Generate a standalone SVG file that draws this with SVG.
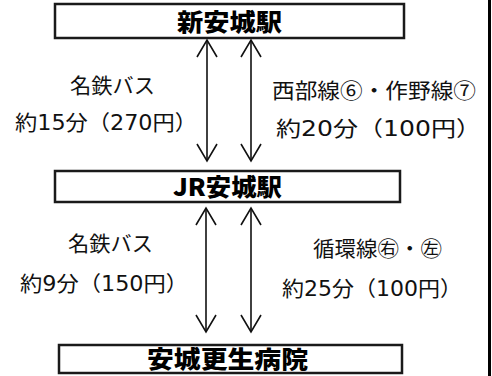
<svg xmlns="http://www.w3.org/2000/svg" width="492" height="376" viewBox="0 0 492 376">
  <style>
    .box { fill: #ffffff; stroke: #1a1a1a; stroke-width: 2.5; }
    .title { font-family: "Noto Sans CJK JP", "Noto Sans", sans-serif; font-weight: 900; font-size: 24px; fill: #000; }
    .lbl { font-family: "DejaVu Sans", "Noto Sans CJK JP", sans-serif; font-weight: 400; font-size: 21px; fill: #111; }
    .cjk { font-family: "Noto Sans CJK JP", sans-serif; }
    .conn { stroke: #111; stroke-width: 1.6; fill: none; }
  </style>
  <defs>
    <marker id="head" markerUnits="userSpaceOnUse" viewBox="-20 -12 22 24" refX="0" refY="0" markerWidth="22" markerHeight="24" orient="auto-start-reverse">
      <path d="M -17 -10 L 0 0 L -17 10" fill="none" stroke="#111" stroke-width="1.6"/>
    </marker>
  </defs>
  <rect x="0" y="0" width="492" height="376" fill="#ffffff"/>
  <rect x="488" y="0" width="3" height="376" fill="#000"/>

  <g id="node-shin-anjo">
    <rect class="box" x="55" y="4" width="349" height="34"/>
    <text class="title" x="177" y="30.5" textLength="105" lengthAdjust="spacingAndGlyphs">新安城駅</text>
  </g>
  <g id="node-jr-anjo">
    <rect class="box" x="55" y="171" width="345" height="31"/>
    <text class="title" x="173" y="196" textLength="109" lengthAdjust="spacingAndGlyphs">JR安城駅</text>
  </g>
  <g id="node-hospital">
    <rect class="box" x="59" y="345" width="343" height="28"/>
    <text class="title" x="147" y="368" textLength="161" lengthAdjust="spacingAndGlyphs">安城更生病院</text>
  </g>

  <g id="connectors">
    <line class="conn" x1="207" y1="40" x2="207" y2="161" marker-start="url(#head)" marker-end="url(#head)"/>
    <line class="conn" x1="251" y1="40" x2="251" y2="161" marker-start="url(#head)" marker-end="url(#head)"/>
    <line class="conn" x1="206" y1="208" x2="206" y2="332" marker-start="url(#head)" marker-end="url(#head)"/>
    <line class="conn" x1="251" y1="208" x2="251" y2="332" marker-start="url(#head)" marker-end="url(#head)"/>
  </g>

  <g id="labels">
    <text class="lbl" x="70" y="92.5" textLength="85" lengthAdjust="spacingAndGlyphs">名鉄バス</text>
    <text class="lbl" x="15" y="130" textLength="182" lengthAdjust="spacingAndGlyphs">約15分（270円）</text>
    <text class="lbl" x="272" y="97.5" textLength="204" lengthAdjust="spacingAndGlyphs">西部線<tspan class="cjk">⑥・</tspan>作野線<tspan class="cjk">⑦</tspan></text>
    <text class="lbl" x="276" y="136" textLength="205" lengthAdjust="spacingAndGlyphs">約20分（100円）</text>
    <text class="lbl" x="68" y="251" textLength="85" lengthAdjust="spacingAndGlyphs">名鉄バス</text>
    <text class="lbl" x="20" y="291" textLength="168" lengthAdjust="spacingAndGlyphs">約9分（150円）</text>
    <text class="lbl" x="313" y="255.5" textLength="129" lengthAdjust="spacingAndGlyphs">循環線<tspan class="cjk">㊨・㊧</tspan></text>
    <text class="lbl" x="282" y="295.5" textLength="180" lengthAdjust="spacingAndGlyphs">約25分（100円）</text>
  </g>
</svg>
